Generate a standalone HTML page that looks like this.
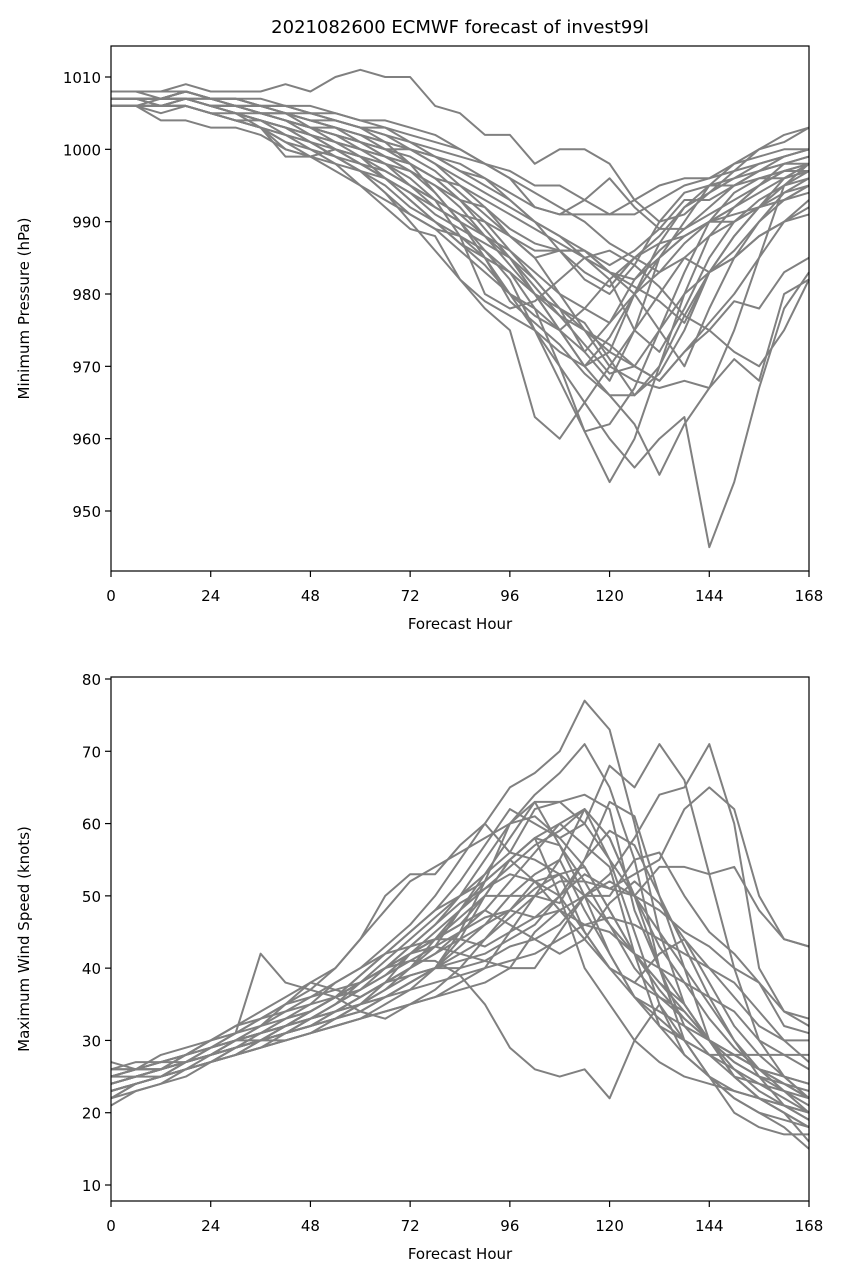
<!DOCTYPE html>
<html><head><meta charset="utf-8">
<style>
html,body{margin:0;padding:0;background:#fff;}
svg{display:block;font-family:"DejaVu Sans","Liberation Sans",sans-serif;}
</style></head>
<body>
<svg id="chart" width="843" height="1279" viewBox="0 0 843 1279" xmlns="http://www.w3.org/2000/svg">
<rect width="843" height="1279" fill="#fff"/>
<text x="460" y="33" font-size="18" text-anchor="middle">2021082600 ECMWF forecast of invest99l</text>
<g id="top"></g>
<g id="bot"></g>
</svg>
<script>
const hours = [0,6,12,18,24,30,36,42,48,54,60,66,72,78,84,90,96,102,108,114,120,126,132,138,144,150,156,162,168];
const xTicks = [0,24,48,72,96,120,144,168];
const pTicks = [950,960,970,980,990,1000,1010];
const wTicks = [10,20,30,40,50,60,70,80];
const pressure = [
[1007,1007,1007,1008,1007,1007,1006,1006,1005,1004,1003,1001,998,994,990,985,980,975,970,965,960,956,960,963,945,954,967,978,983],
[1006,1006,1007,1007,1006,1005,1004,1003,1001,999,997,995,992,990,988,986,983,978,970,961,954,960,970,980,988,992,995,998,999],
[1008,1008,1008,1009,1008,1008,1008,1009,1008,1010,1011,1010,1010,1006,1005,1002,1002,998,1000,1000,998,993,990,991,994,997,1000,1002,1003],
[1006,1006,1006,1007,1006,1005,1004,1002,1000,998,995,992,989,988,982,978,975,963,960,965,970,975,980,985,988,990,992,993,995],
[1007,1007,1006,1006,1005,1004,1003,1001,1000,999,998,996,993,990,987,985,983,980,975,970,966,962,955,962,967,975,985,995,998],
[1007,1007,1007,1008,1007,1006,1006,1005,1004,1004,1003,1002,1000,998,995,992,988,985,980,975,970,968,967,968,967,971,968,980,982],
[1006,1006,1005,1006,1005,1004,1003,1002,1001,1000,998,996,994,991,989,987,985,982,978,972,968,975,985,990,995,998,1000,1001,1003],
[1007,1007,1007,1008,1007,1007,1006,1006,1005,1005,1004,1004,1003,1002,1000,998,996,992,991,991,991,993,995,996,996,998,999,1000,1000],
[1006,1006,1006,1006,1005,1004,1003,1000,999,1000,999,998,997,994,990,986,982,975,968,961,962,967,975,980,983,985,988,990,992],
[1007,1007,1007,1007,1007,1006,1006,1005,1003,1001,1000,999,997,995,993,990,986,982,978,975,973,970,968,972,976,980,985,990,993],
[1007,1007,1006,1007,1006,1006,1005,1005,1004,1003,1002,1001,1000,999,997,995,993,990,988,985,982,975,972,978,985,990,993,995,997],
[1006,1006,1004,1004,1003,1003,1002,1000,999,998,997,996,994,992,990,988,985,980,975,970,972,980,985,988,990,992,994,996,997],
[1007,1007,1007,1007,1006,1005,1005,1004,1003,1002,1001,1000,1000,998,996,994,992,990,988,986,983,980,975,970,978,985,990,993,995],
[1008,1008,1008,1008,1007,1007,1006,1006,1005,1004,1003,1002,1001,1000,999,998,996,994,992,990,987,985,983,987,990,992,995,997,998],
[1007,1007,1007,1007,1006,1006,1005,1004,1003,1002,1000,998,995,993,991,988,986,983,980,978,976,980,983,985,983,985,988,990,991],
[1006,1006,1006,1006,1005,1004,1003,1002,1001,999,997,994,991,989,988,985,983,980,977,975,972,970,968,972,975,979,978,983,985],
[1007,1007,1007,1007,1007,1006,1006,1005,1005,1004,1003,1003,1002,1001,1000,998,997,995,995,993,991,991,993,995,996,997,998,999,1000],
[1007,1007,1006,1007,1006,1005,1004,1003,1002,1000,999,998,996,993,988,980,978,979,982,985,986,984,981,977,975,972,970,975,982],
[1006,1006,1006,1006,1005,1005,1004,1003,1002,1001,1000,999,998,996,993,992,989,987,986,983,981,985,988,992,995,996,998,999,1000],
[1007,1007,1007,1007,1006,1006,1005,1005,1004,1003,1001,999,997,995,992,988,984,980,978,976,971,966,969,975,983,988,992,995,996],
[1006,1006,1006,1007,1006,1005,1003,999,999,1000,999,997,995,992,990,985,979,976,973,969,966,966,970,977,983,988,992,996,997],
[1007,1007,1007,1007,1006,1006,1005,1004,1003,1002,1001,1000,998,996,993,989,985,981,977,973,969,970,975,983,990,994,996,997,997],
[1008,1008,1007,1008,1007,1007,1006,1005,1004,1003,1002,1000,999,997,994,991,988,985,986,986,983,981,979,976,983,986,990,994,996],
[1006,1006,1006,1007,1006,1005,1004,1003,1001,999,997,994,990,986,982,979,977,975,972,970,974,980,987,992,994,996,997,998,999],
[1007,1007,1007,1007,1006,1006,1005,1004,1002,1000,998,997,995,993,991,990,988,986,986,986,984,986,989,993,993,995,996,996,998],
[1007,1007,1007,1008,1007,1006,1005,1004,1003,1003,1002,1001,1000,999,997,996,993,990,986,982,980,984,990,994,995,995,997,999,1000],
[1006,1006,1006,1006,1005,1004,1004,1003,1002,1001,999,996,993,990,987,984,980,977,975,978,982,985,987,988,990,991,992,993,994],
[1007,1007,1007,1008,1007,1007,1007,1006,1006,1005,1004,1003,1001,999,998,996,994,992,991,993,996,992,989,989,992,995,997,998,998],
[1006,1006,1006,1006,1005,1004,1003,1001,999,997,995,993,991,989,986,983,980,978,975,972,976,982,986,989,991,993,995,997,998],
[1007,1007,1007,1007,1006,1006,1005,1004,1003,1002,1001,999,998,996,995,993,991,989,987,985,983,982,985,988,990,990,992,994,995]
];
const wind = [
[24,25,26,27,28,30,31,33,35,38,40,43,46,50,55,60,65,67,70,77,73,60,45,35,30,25,22,20,18],
[23,24,25,26,27,29,30,32,34,36,39,42,45,48,52,57,62,60,58,60,68,65,71,66,53,40,30,25,22],
[25,26,26,28,30,32,33,35,37,40,44,50,53,53,57,60,56,62,63,64,62,48,40,35,30,27,25,24,23],
[22,24,25,27,28,30,31,32,34,36,38,40,43,46,50,55,60,64,67,71,65,55,40,32,28,25,22,20,16],
[24,25,26,27,29,30,30,31,32,34,36,38,40,43,48,53,58,63,63,60,55,50,45,40,35,30,26,23,20],
[26,27,27,28,30,31,32,33,34,36,37,39,42,44,47,50,50,50,49,55,63,61,50,40,30,25,24,22,20],
[21,23,24,26,27,28,29,30,31,32,33,34,35,36,38,40,45,50,55,62,58,50,40,30,25,20,18,17,17],
[25,26,26,27,28,29,30,31,32,33,34,36,38,40,42,44,47,50,52,52,51,53,55,62,65,62,50,44,43],
[24,25,25,26,28,30,32,35,38,37,36,38,40,42,44,46,48,47,48,46,45,42,40,38,36,34,30,28,26],
[23,24,25,26,27,28,30,31,33,35,37,39,41,43,45,47,48,52,53,54,48,42,38,35,30,25,22,20,18],
[24,25,26,27,28,29,31,33,34,36,38,40,41,41,39,35,29,26,25,26,22,30,35,30,25,22,20,18,15],
[23,24,25,26,27,29,30,31,32,33,35,38,42,44,46,50,55,58,60,57,54,42,32,30,28,26,24,23,22],
[22,24,25,26,27,28,29,30,31,32,33,34,35,36,37,38,40,45,48,50,52,50,48,45,43,40,38,34,32],
[25,26,27,28,29,30,31,32,33,34,36,38,40,42,45,48,52,56,60,62,55,45,35,28,25,22,20,19,18],
[24,25,26,27,28,30,31,32,34,36,38,40,42,43,42,41,40,40,45,50,50,55,56,50,45,42,38,32,31],
[26,26,27,28,29,30,31,32,33,34,35,36,38,40,43,46,50,53,55,48,42,36,33,30,28,28,28,28,28],
[23,24,25,26,27,28,29,30,31,33,35,37,39,40,40,41,43,44,46,50,53,58,64,65,71,60,40,34,33],
[24,25,26,27,28,29,30,31,32,33,34,36,38,40,44,50,55,58,50,40,35,30,27,25,24,23,22,21,20],
[25,26,26,27,28,29,30,31,32,33,35,37,40,44,48,52,55,52,50,45,40,38,36,34,30,28,26,25,24],
[24,25,26,27,28,29,30,31,32,34,36,38,39,40,41,42,44,46,50,53,51,50,54,54,53,54,48,44,43],
[27,26,28,29,30,31,42,38,37,36,34,33,35,37,40,44,48,51,53,45,40,36,34,32,30,28,26,24,22],
[24,25,26,28,30,32,34,36,38,40,44,48,52,54,56,58,60,61,58,54,48,42,37,33,30,28,26,25,24],
[23,24,25,26,27,28,29,31,33,35,38,41,44,47,50,53,56,55,53,50,46,42,38,34,30,26,23,21,19],
[25,26,27,28,29,30,32,34,36,38,40,42,43,44,44,43,45,47,50,55,59,57,50,43,36,30,25,21,19],
[22,23,24,25,27,28,30,32,34,36,39,42,45,48,50,52,55,58,57,52,46,40,36,33,30,27,25,23,21],
[24,25,26,27,28,29,30,31,33,35,37,40,43,46,49,51,53,52,48,44,40,38,42,44,40,36,32,30,30],
[25,25,26,27,29,31,33,34,35,36,38,40,42,44,46,48,46,44,42,44,49,52,49,44,38,32,28,25,22],
[23,24,25,27,29,31,33,35,36,37,38,40,42,45,48,51,54,57,59,62,58,50,43,38,33,29,26,24,22],
[24,25,26,27,28,29,30,32,33,34,35,36,37,38,39,40,41,42,44,46,47,46,44,42,40,38,34,30,27],
[26,26,27,27,28,29,30,30,31,32,33,35,37,40,45,52,60,63,57,50,42,36,32,28,25,23,22,21,20]
];
const NS="http://www.w3.org/2000/svg";
function mk(tag,parent,attrs){const e=document.createElementNS(NS,tag);for(const k in attrs)e.setAttribute(k,attrs[k]);parent.appendChild(e);return e;}
function panel(g,top,bottom,yv0,py0,yv1,py1,yTicks,series,ylabel,prefix){
  const L=111,R=809;
  const xs=h=>L+(R-L)*h/168;
  const ys=v=>py0+(py1-py0)*(v-yv0)/(yv1-yv0);
  series.forEach((s,i)=>{
    const d=s.map((v,j)=>(j?'L':'M')+xs(hours[j]).toFixed(1)+' '+ys(v).toFixed(1)).join(' ');
    const p=mk('path',g,{d:d,fill:'none',stroke:'#808080','stroke-width':2,'stroke-linejoin':'round'});
    
    
  });
  const fr=mk('rect',g,{x:L,y:top,width:R-L,height:bottom-top,fill:'none',stroke:'#000','stroke-width':1.2});
  
  
  xTicks.forEach(t=>{
    const x=xs(t);
    mk('line',g,{x1:x,x2:x,y1:bottom,y2:bottom+6,stroke:'#000','stroke-width':1.2});
    const tx=mk('text',g,{x:x,y:bottom+30,'font-size':15,'text-anchor':'middle'});
    tx.textContent=t;
    
    
  });
  yTicks.forEach(t=>{
    const y=ys(t);
    mk('line',g,{x1:L-6,x2:L,y1:y,y2:y,stroke:'#000','stroke-width':1.2});
    const tx=mk('text',g,{x:L-10,y:y+6,'font-size':15,'text-anchor':'end'});
    tx.textContent=t;
    
    
  });
  const xl=mk('text',g,{x:(L+R)/2,y:bottom+58,'font-size':15,'text-anchor':'middle'});
  xl.textContent='Forecast Hour';
  
  
  const cy=(top+bottom)/2;
  const yl=mk('text',g,{x:29,y:cy,'font-size':15,'text-anchor':'middle',transform:'rotate(-90 29 '+cy+')'});
  yl.textContent=ylabel;
  
  
}
panel(document.getElementById('top'),46,571,1010,77,950,511,pTicks,pressure,'Minimum Pressure (hPa)','pressure');
panel(document.getElementById('bot'),677,1201,80,679,10,1185,wTicks,wind,'Maximum Wind Speed (knots)','wind');
</script>
</body></html>
